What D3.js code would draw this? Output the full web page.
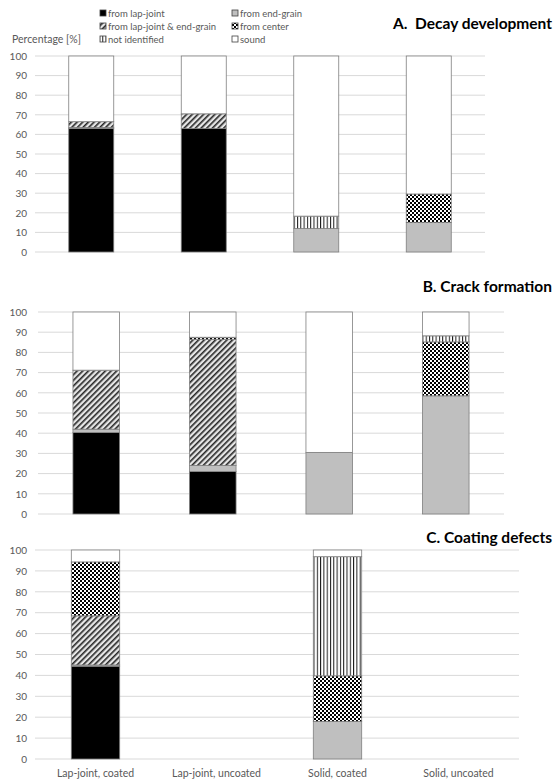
<!DOCTYPE html>
<html>
<head>
  <meta charset="utf-8">
  <title>Decay, cracks and coating defects</title>
  <style>
    body { margin: 0; background: #fff; }
    text { font-family: Lato, "Open Sans", sans-serif; }
  </style>
</head>
<body>
  <svg width="554" height="780"></svg>
  <script src="https://d3js.org/d3.v7.min.js"></script>
  <script>
    // categories and series
    var categories = ["Lap-joint, coated", "Lap-joint, uncoated", "Solid, coated", "Solid, uncoated"];
    var seriesNames = ["from lap-joint", "from end-grain", "from lap-joint & end-grain",
                       "from center", "not identified", "sound"];
    var yTicks = [0, 10, 20, 30, 40, 50, 60, 70, 80, 90, 100];

    // one row per series, one value per category (percent)
    var decayValues = [
      [63, 63, 0, 0],
      [0.5, 0, 12, 15],
      [3, 7.5, 0, 0],
      [0, 0, 0, 14.6],
      [0, 0, 6.3, 0],
      [33.5, 29.5, 81.7, 70.4]
    ];
    var crackValues = [
      [40.3, 21, 0, 0],
      [1.7, 3, 30.5, 58.5],
      [29.2, 62.5, 0, 0],
      [0, 1, 0, 26.7],
      [0, 0, 0, 3],
      [28.8, 12.5, 69.5, 11.8]
    ];
    var coatingValues = [
      [44.4, 0, 0, 0],
      [0.6, 0, 18, 0],
      [23.5, 0, 0, 0],
      [25.8, 0, 21.8, 0],
      [0, 0, 57, 0],
      [5.7, 0, 3.2, 0]
    ];
    var panelTitles = ["A.  Decay development", "B. Crack formation", "C. Coating defects"];

    var svg = d3.select("svg");
    var defs = svg.append("defs");

    // fills
    var hatch = defs.append("pattern").attr("id", "hatch")
      .attr("patternUnits", "userSpaceOnUse").attr("width", 4).attr("height", 4)
      .attr("patternTransform", "rotate(45)");
    hatch.append("rect").attr("width", 4).attr("height", 4).attr("fill", "#e6e6e6");
    hatch.append("rect").attr("width", 1.6).attr("height", 4).attr("fill", "#262626");

    var checker = defs.append("pattern").attr("id", "checker")
      .attr("patternUnits", "userSpaceOnUse").attr("width", 4).attr("height", 4);
    checker.append("rect").attr("width", 4).attr("height", 4).attr("fill", "#fff");
    checker.append("rect").attr("width", 2).attr("height", 2).attr("fill", "#000");
    checker.append("rect").attr("x", 2).attr("y", 2).attr("width", 2).attr("height", 2).attr("fill", "#000");

    var vlines = defs.append("pattern").attr("id", "vlines")
      .attr("patternUnits", "userSpaceOnUse").attr("width", 3.3).attr("height", 4);
    vlines.append("rect").attr("width", 3.3).attr("height", 4).attr("fill", "#fff");
    vlines.append("rect").attr("width", 1).attr("height", 4).attr("fill", "#1a1a1a");

    var fills = ["#000", "#bfbfbf", "url(#hatch)", "url(#checker)", "url(#vlines)", "#fff"];

    var panels = [
      { values: decayValues, x0: 35, x1: 485, top: 56, bottom: 252, titleY: 29 },
      { values: crackValues, x0: 38, x1: 504, top: 312, bottom: 514, titleY: 292 },
      { values: coatingValues, x0: 35, x1: 519, top: 550, bottom: 759, titleY: 543 }
    ];

    panels.forEach(function (p, pi) {
      var x = d3.scaleBand().domain(categories).range([p.x0, p.x1])
        .paddingInner(0.6).paddingOuter(0.3);
      var y = d3.scaleLinear().domain([0, 100]).range([p.bottom, p.top]);

      var g = svg.append("g");

      // gridlines
      g.selectAll(".grid").data(yTicks).enter().append("line")
        .attr("x1", p.x0).attr("x2", p.x1)
        .attr("y1", d => y(d)).attr("y2", d => y(d))
        .attr("stroke", "#d9d9d9").attr("stroke-width", 1);

      // y axis labels
      var yAxis = d3.axisLeft(y).tickValues(yTicks).tickSize(0).tickPadding(p.x0 - 27);
      var ya = g.append("g").attr("transform", "translate(" + p.x0 + ",0)").call(yAxis);
      ya.select(".domain").remove();
      ya.selectAll("text").attr("fill", "#595959").style("font-size", "10px")
        .style("font-family", "Lato, sans-serif");

      // stacked bars
      var rows = categories.map(function (c, ci) {
        var o = { cat: c };
        seriesNames.forEach(function (s, si) { o[s] = p.values[si][ci]; });
        return o;
      });
      var stacked = d3.stack().keys(seriesNames)(rows);

      stacked.forEach(function (layer, si) {
        g.selectAll(".seg" + si)
          .data(layer.filter(d => d[1] - d[0] > 0))
          .enter().append("rect")
          .attr("x", d => x(d.data.cat))
          .attr("width", x.bandwidth())
          .attr("y", d => y(d[1]))
          .attr("height", d => y(d[0]) - y(d[1]))
          .attr("fill", fills[si])
          .attr("stroke", "#7f7f7f")
          .attr("stroke-width", 0.8);
      });

      // panel title
      svg.append("text")
        .attr("x", 552).attr("y", p.titleY)
        .attr("text-anchor", "end")
        .style("font-size", "15.5px").style("font-weight", "bold")
        .attr("fill", "#000")
        .attr("xml:space", "preserve")
        .text(panelTitles[pi]);

      // category labels only under last panel
      if (pi == 2) {
        g.selectAll(".cat").data(categories).enter().append("text")
          .attr("x", d => x(d) + x.bandwidth() / 2)
          .attr("y", 777)
          .attr("text-anchor", "middle")
          .attr("fill", "#595959")
          .style("font-size", "10.5px")
          .text(d => d);
      }
    });

    // y title
    svg.append("text").attr("x", 12).attr("y", 43)
      .attr("fill", "#595959").style("font-size", "10.5px")
      .text("Percentage [%]");

    // legend, two columns of three
    var legend = svg.append("g");
    seriesNames.forEach(function (s, i) {
      var col = i % 2, row = Math.floor(i / 2);
      var lx = col == 0 ? 100 : 232;
      var ly = 13 + row * 13;
      legend.append("rect")
        .attr("x", lx).attr("y", ly - 3).attr("width", 6).attr("height", 6)
        .attr("fill", fills[i]).attr("stroke", "#404040").attr("stroke-width", 0.8);
      legend.append("text")
        .attr("x", lx + 8).attr("y", ly + 3.5)
        .attr("fill", "#595959").style("font-size", "9.5px")
        .text(s);
    });
  </script>
</body>
</html>
